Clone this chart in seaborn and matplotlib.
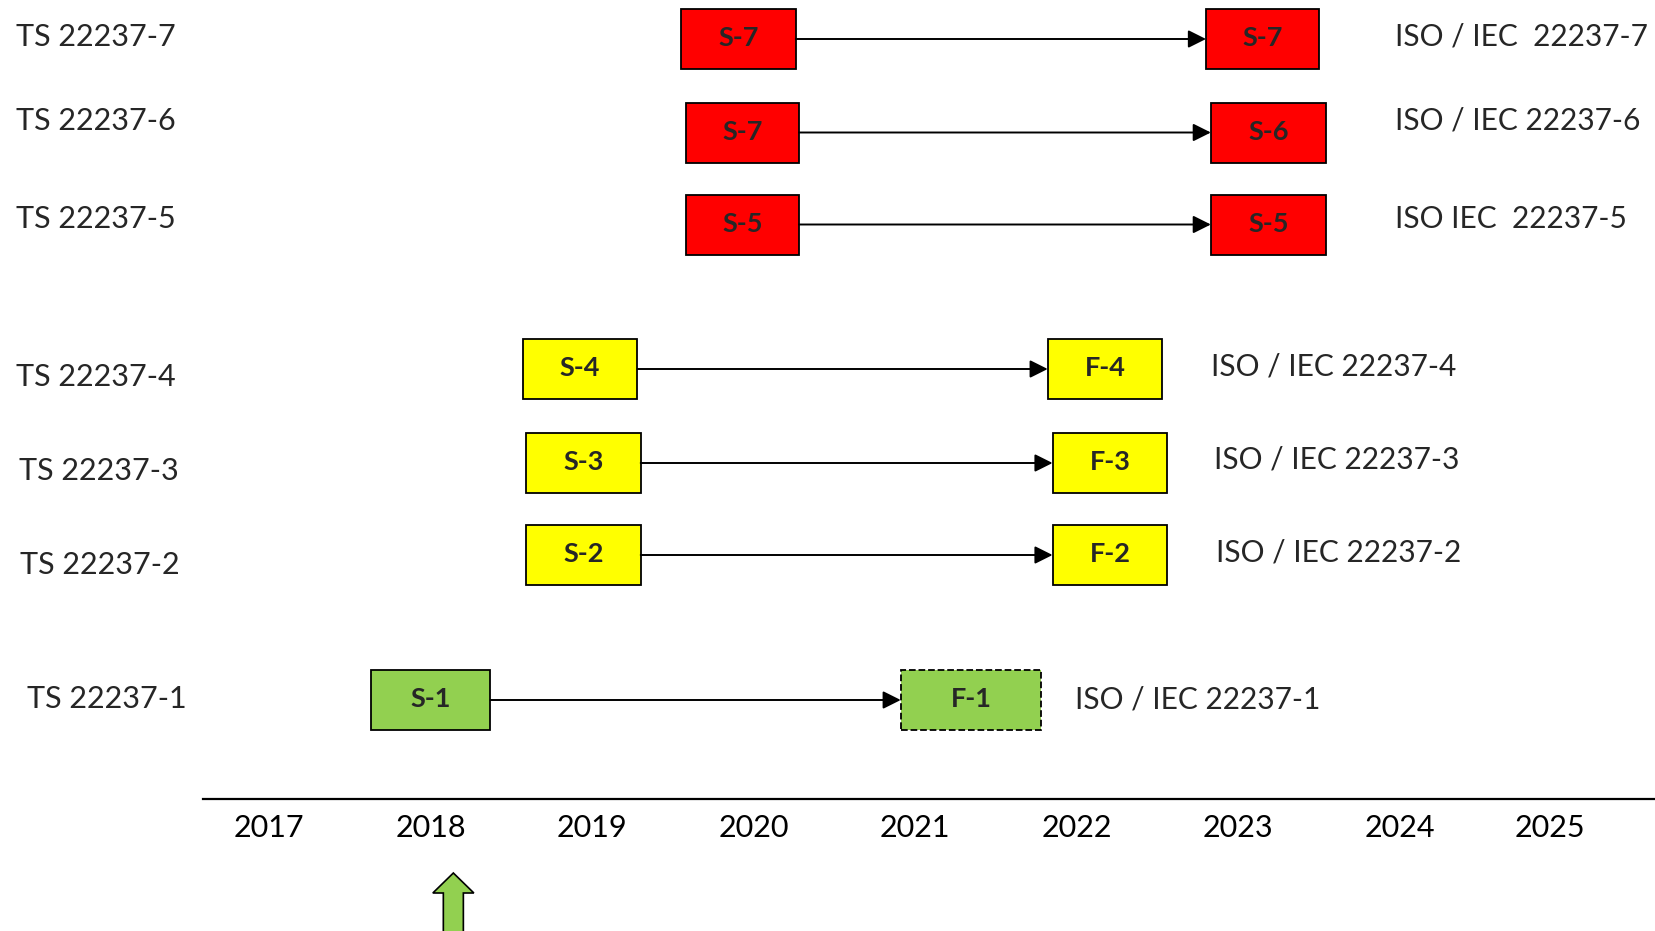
import matplotlib.pyplot as plt
import seaborn as sns

# rows from bottom (part 1) to top (part 7)
ts_names = ['TS 22237-1', 'TS 22237-2', 'TS 22237-3', 'TS 22237-4',
            'TS 22237-5', 'TS 22237-6', 'TS 22237-7']
iso_names = ['ISO / IEC 22237-1', 'ISO / IEC 22237-2', 'ISO / IEC 22237-3',
             'ISO / IEC 22237-4', 'ISO IEC  22237-5', 'ISO / IEC 22237-6',
             'ISO / IEC  22237-7']
start_names = ['S-1', 'S-2', 'S-3', 'S-4', 'S-5', 'S-7', 'S-7']
final_names = ['F-1', 'F-2', 'F-3', 'F-4', 'S-5', 'S-6', 'S-7']

# box extents in years
start_from = [2017.63, 2018.59, 2018.59, 2018.57, 2019.58, 2019.58, 2019.55]
start_to = [2018.37, 2019.30, 2019.30, 2019.28, 2020.28, 2020.28, 2020.26]
final_from = [2020.91, 2021.85, 2021.85, 2021.82, 2022.83, 2022.83, 2022.80]
final_to = [2021.78, 2022.56, 2022.56, 2022.53, 2023.54, 2023.54, 2023.50]

years = [2017, 2018, 2019, 2020, 2021, 2022, 2023, 2024, 2025]
now_year = 2018.14

# layout (y in pixels above the time line)
row_y = [99, 244, 336, 430, 574.5, 666.5, 760]
ts_y = [102, 237, 331, 424, 582, 681, 765]
ts_x = [2015.50, 2015.46, 2015.45, 2015.43, 2015.43, 2015.43, 2015.43]
iso_y = [102, 249, 342, 435, 582, 681, 765]
iso_x = [2021.99, 2022.86, 2022.85, 2022.83, 2023.97, 2023.97, 2023.97]
tick_pos = [2017, 2018, 2019, 2020, 2021, 2022, 2023, 2024, 2024.93]
colors = ['#92D050', '#FFFF00', '#FFFF00', '#FFFF00', '#FF0000', '#FF0000', '#FF0000']
box_h = 60

sns.set_theme(style='white')
plt.rcParams['font.family'] = ['Lato', 'DejaVu Sans']

fig = plt.figure(figsize=(16.55, 9.31), dpi=100)
ax = fig.add_axes([203 / 1655, 132 / 931, 1 - 203 / 1655, 799 / 931])
ax.set_xlim(2016.59, 2025.58)
ax.set_ylim(0, 799)

for i in range(len(ts_names)):
    y = row_y[i]
    ax.barh(y, start_to[i] - start_from[i], left=start_from[i], height=box_h,
            color=colors[i], edgecolor='black', linewidth=1.3)
    ax.barh(y, final_to[i] - final_from[i], left=final_from[i], height=box_h,
            color=colors[i], edgecolor='black', linewidth=1.3,
            linestyle='--' if i == 0 else '-')
    ax.annotate('', xy=(final_from[i], y), xytext=(start_to[i], y),
                arrowprops=dict(arrowstyle='-|>', color='black', lw=1.4,
                                mutation_scale=27, shrinkA=0, shrinkB=0))
    ax.text((start_from[i] + start_to[i]) / 2, y + 3, start_names[i], ha='center',
            va='center_baseline', fontsize=19.5, fontweight='bold')
    ax.text((final_from[i] + final_to[i]) / 2, y + 3, final_names[i], ha='center',
            va='center_baseline', fontsize=19.5, fontweight='bold')
    ax.text(ts_x[i], ts_y[i], ts_names[i], ha='left', va='center_baseline',
            fontsize=22, clip_on=False)
    ax.text(iso_x[i], iso_y[i], iso_names[i], ha='left', va='center_baseline',
            fontsize=21.5, clip_on=False)

# "today" marker below the time line
ax.arrow(now_year, -150, 0, 76, width=0.124, head_width=0.254, head_length=20,
         length_includes_head=True, fc='#92D050', ec='black', lw=1.2, clip_on=False)

ax.set_xticks(tick_pos, [str(y) for y in years])
ax.set_yticks([])
ax.tick_params(axis='x', length=0, pad=11, labelsize=22, colors='black')
sns.despine(ax=ax, left=True)
ax.spines['bottom'].set_color('black')
ax.spines['bottom'].set_linewidth(1.6)

fig.savefig('out.png', dpi=100)
